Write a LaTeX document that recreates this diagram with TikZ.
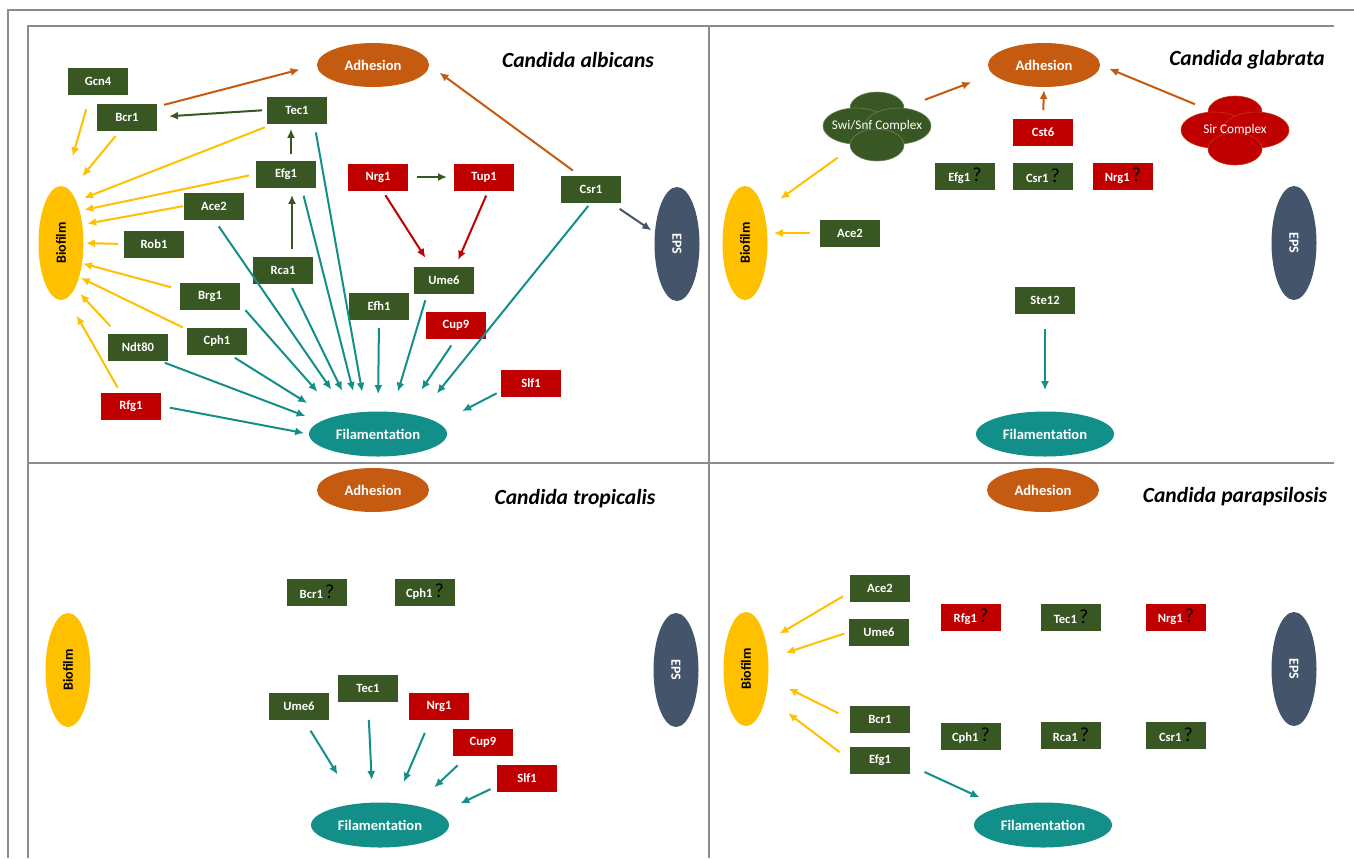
\documentclass[tikz,border=0pt]{standalone}
\usepackage{fontspec}
\setmainfont{Carlito}
\usepackage{tikz}
\usetikzlibrary{arrows.meta, shapes.geometric}
\definecolor{cgreen}{RGB}{56,87,35}
\definecolor{cred}{RGB}{192,0,0}
\definecolor{corange}{RGB}{197,90,17}
\definecolor{cyellow}{RGB}{255,192,0}
\definecolor{cslate}{RGB}{68,84,106}
\definecolor{cteal}{RGB}{19,143,138}
\definecolor{cframe}{RGB}{140,140,140}
\newcommand{\qm}{\,{\color{black}\mdseries\fontsize{10}{10}\selectfont ?}}
\tikzset{
frameLine/.style={draw=cframe, line width=0.7pt},
greenBox/.style={rectangle, fill=cgreen, text=white, minimum width=30pt, minimum height=13.5pt,
    inner sep=0pt, outer sep=0pt, font=\bfseries\fontsize{6.3}{7}\selectfont},
redBox/.style={greenBox, fill=cred},
oval/.style={ellipse, inner sep=0pt, outer sep=0pt, text=white, font=\bfseries\fontsize{7.3}{8}\selectfont},
adhOval/.style={oval, fill=corange, minimum width=56pt, minimum height=22pt},
filOval/.style={oval, fill=cteal, minimum width=69pt, minimum height=22.5pt},
bioOval/.style={oval, fill=cyellow, text=black, minimum width=22.5pt, minimum height=57pt, font=\bfseries\fontsize{7}{8}\selectfont},
epsOval/.style={bioOval, fill=cslate, text=white},
cloudTxt/.style={ellipse, minimum width=54pt, minimum height=37pt, inner sep=0pt, outer sep=0pt,
    text=white, font=\fontsize{6.6}{8}\selectfont},
titleTxt/.style={inner sep=0pt, font=\bfseries\itshape\fontsize{10.8}{12}\selectfont},
arrowMe/.style={-{Latex[length=4.5pt,width=4pt]}, line width=1pt, draw=#1}
}
\begin{document}
\begin{tikzpicture}[x=0.5pt, y=-0.5pt]
\useasboundingbox (0,0) rectangle (1354,858);
\draw[frameLine] (8,858) -- (8,10) -- (1354,10);
\draw[frameLine] (28,858) -- (28,26) -- (1334,26);
\draw[frameLine] (709,26) -- (709,858);
\draw[frameLine] (28,463) -- (1334,463);

\node[adhOval] (alb_Adh) at (373,65) {Adhesion};
\node[titleTxt] (alb_Title) at (578,60) {Candida albicans};
\node[bioOval] (alb_Bio) at (61,243) {\rotatebox{90}{Biofilm}};
\node[epsOval] (alb_EPS) at (677,244) {\rotatebox{-90}{EPS}};
\node[filOval] (alb_Fil) at (378,434) {Filamentation};
\node[greenBox] (alb_Gcn4) at (98,81) {Gcn4};
\node[greenBox] (alb_Bcr1) at (127,117) {Bcr1};
\node[greenBox] (alb_Tec1) at (297,110) {Tec1};
\node[greenBox] (alb_Efg1) at (286,174) {Efg1};
\node[greenBox] (alb_Ace2) at (214,206) {Ace2};
\node[greenBox] (alb_Rob1) at (154,244) {Rob1};
\node[greenBox] (alb_Rca1) at (283,270) {Rca1};
\node[greenBox] (alb_Brg1) at (210,296) {Brg1};
\node[greenBox] (alb_Cph1) at (217,341) {Cph1};
\node[greenBox] (alb_Ndt80) at (138,347) {Ndt80};
\node[greenBox] (alb_Csr1) at (591,189) {Csr1};
\node[greenBox] (alb_Ume6) at (444,280) {Ume6};
\node[greenBox] (alb_Efh1) at (379,306) {Efh1};
\node[redBox] (alb_Rfg1) at (131,406) {Rfg1};
\node[redBox] (alb_Nrg1) at (378,177) {Nrg1};
\node[redBox] (alb_Tup1) at (484,177) {Tup1};
\node[redBox] (alb_Cup9) at (456,325) {Cup9};
\node[redBox] (alb_Slf1) at (531,383) {Slf1};

\draw[arrowMe=cyellow, shorten <=7.7pt, shorten >=15.7pt] (alb_Gcn4.241) -- (alb_Bio.87);
\draw[arrowMe=cyellow, shorten <=3.6pt, shorten >=9.5pt] (alb_Bcr1.243) -- (alb_Bio.80);
\draw[arrowMe=cyellow, shorten <=5.2pt, shorten >=4.2pt] (alb_Tec1.211) -- (alb_Bio.70);
\draw[arrowMe=cyellow, shorten <=3.5pt, shorten >=2.4pt] (alb_Efg1.west) -- (alb_Bio.60);
\draw[arrowMe=cyellow, shorten <=0.5pt, shorten >=2.5pt] (alb_Ace2.west) -- (alb_Bio.41);
\draw[arrowMe=cyellow, shorten <=3pt, shorten >=1.2pt] (alb_Rob1.west) -- (alb_Bio.east);
\draw[arrowMe=cyellow, shorten <=4.6pt, shorten >=0.5pt] (alb_Brg1.168) -- (alb_Bio.316);
\draw[arrowMe=cyellow, shorten <=2.2pt, shorten >=1pt] (alb_Cph1.159) -- (alb_Bio.298);
\draw[arrowMe=cyellow, shorten <=5pt, shorten >=4pt] (alb_Ndt80.147) -- (alb_Bio.287);
\draw[arrowMe=cyellow, shorten <=2.8pt, shorten >=10pt] (alb_Rfg1.128) -- (alb_Bio.276);
\draw[arrowMe=corange, shorten <=3.7pt, shorten >=9pt] (alb_Bcr1.19) -- (alb_Adh.west);
\draw[arrowMe=corange, shorten <=4.2pt, shorten >=6.5pt] (alb_Csr1.130) -- (alb_Adh.east);
\draw[arrowMe=cgreen, shorten <=2.5pt, shorten >=6pt] (alb_Tec1.west) -- (alb_Bcr1.east);
\draw[arrowMe=cgreen, shorten <=3.5pt, shorten >=2.7pt] ([xshift=2.5pt]alb_Efg1.north) -- ([xshift=2.5pt]alb_Efg1.north |- alb_Tec1.south);
\draw[arrowMe=cgreen, shorten <=3.7pt, shorten >=3.7pt] ([xshift=4.5pt]alb_Rca1.north) -- ([xshift=4.5pt]alb_Rca1.north |- alb_Efg1.south);
\draw[arrowMe=cgreen, shorten <=4.5pt, shorten >=3.5pt] (alb_Nrg1.east) -- (alb_Tup1.west);
\draw[arrowMe=cred, shorten <=2.8pt, shorten >=5.2pt] (alb_Nrg1.288) -- (alb_Ume6.134);
\draw[arrowMe=cred, shorten <=2.8pt, shorten >=3.6pt] (alb_Tup1.288) -- (alb_Ume6.50);
\draw[arrowMe=cslate, shorten <=5.7pt, shorten >=2.2pt] (alb_Csr1.325) -- (alb_EPS.153);
\draw[arrowMe=cteal, shorten <=3.2pt, shorten >=7.8pt] (alb_Ndt80.327) -- (alb_Fil.168);
\draw[arrowMe=cteal, shorten <=4.5pt, shorten >=2.5pt] (alb_Rfg1.east) -- (alb_Fil.west);
\draw[arrowMe=cteal, shorten <=3.1pt, shorten >=13.8pt] (alb_Cph1.313) -- (alb_Fil.161);
\draw[arrowMe=cteal, shorten <=4.1pt, shorten >=15.9pt] (alb_Brg1.345) -- (alb_Fil.155);
\draw[arrowMe=cteal, shorten <=4.2pt, shorten >=14.7pt] (alb_Ace2.south) -- (alb_Fil.146);
\draw[arrowMe=cteal, shorten <=2.5pt, shorten >=12.4pt] (alb_Rca1.297) -- (alb_Fil.140);
\draw[arrowMe=cteal, shorten <=4.2pt, shorten >=11pt] (alb_Efg1.319) -- (alb_Fil.132);
\draw[arrowMe=cteal, shorten <=4.5pt, shorten >=10.2pt] (alb_Tec1.322) -- (alb_Fil.119);
\draw[arrowMe=cteal, shorten <=4.2pt, shorten >=8.7pt] (alb_Efh1.south) -- (alb_Fil.north);
\draw[arrowMe=cteal, shorten <=3.5pt, shorten >=10.6pt] (alb_Ume6.219) -- (alb_Fil.58);
\draw[arrowMe=cteal, shorten <=4.2pt, shorten >=14.3pt] (alb_Cup9.south) -- (alb_Fil.37);
\draw[arrowMe=cteal, shorten <=2.2pt, shorten >=14.4pt] (alb_Csr1.south) -- (alb_Fil.24);
\draw[arrowMe=cteal, shorten <=2.5pt, shorten >=13.2pt] (alb_Slf1.195) -- (alb_Fil.10);

\begin{scope}[shift={(877,126)}]
\foreach \dx/\dy/\rx/\ry in {0/-18/27/16, -21/0/33/18, 21/0/33/18, 0/19/27/16}
  \filldraw[fill=cgreen, draw=cgreen!75!white, line width=0.3pt] (\dx,\dy) ellipse [x radius=\rx, y radius=\ry];
\end{scope}
\begin{scope}[shift={(1235,130)}]
\foreach \dx/\dy/\rx/\ry in {0/-18/27/16, -21/0/33/18, 21/0/33/18, 0/19/27/16}
  \filldraw[fill=cred, draw=corange!60!cred, line width=0.3pt] (\dx,\dy) ellipse [x radius=\rx, y radius=\ry];
\end{scope}
\node[adhOval] (gla_Adh) at (1044,65) {Adhesion};
\node[titleTxt] (gla_Title) at (1247,60) {Candida glabrata};
\node[cloudTxt] (gla_Swi) at (877,126) {Swi/Snf Complex};
\node[cloudTxt] (gla_Sir) at (1235,130) {Sir Complex};
\node[redBox] (gla_Cst6) at (1043,132) {Cst6};
\node[greenBox] (gla_Efg1) at (965,176) {Efg1\qm};
\node[greenBox] (gla_Csr1) at (1043,176) {Csr1\qm};
\node[redBox] (gla_Nrg1) at (1123,176) {Nrg1\qm};
\node[bioOval] (gla_Bio) at (745,243) {\rotatebox{90}{Biofilm}};
\node[greenBox] (gla_Ace2) at (850,233) {Ace2};
\node[epsOval] (gla_EPS) at (1294,243) {\rotatebox{-90}{EPS}};
\node[greenBox] (gla_Ste12) at (1045,300) {Ste12};
\node[filOval] (gla_Fil) at (1045,434) {Filamentation};

\draw[arrowMe=corange, shorten <=1pt, shorten >=11.6pt] (gla_Swi.29) -- (gla_Adh.190);
\draw[arrowMe=corange, shorten <=4.2pt, shorten >=1.5pt] (gla_Cst6.north) -- (gla_Adh.south);
\draw[arrowMe=corange, shorten <=0.5pt, shorten >=5pt] (gla_Sir.147) -- (gla_Adh.east);
\draw[arrowMe=cyellow, shorten <=1.3pt, shorten >=10.3pt] (gla_Swi.219) -- (gla_Bio.60);
\draw[arrowMe=cyellow, shorten <=5pt, shorten >=3.2pt] (gla_Ace2.west) -- (gla_Ace2.west -| gla_Bio.east);
\draw[arrowMe=cteal, shorten <=7.7pt, shorten >=10.7pt] (gla_Ste12.south) -- (gla_Fil.north);

\node[adhOval] (tro_Adh) at (373,490) {Adhesion};
\node[titleTxt] (tro_Title) at (575,499) {Candida tropicalis};
\node[greenBox] (tro_Bcr1) at (317,592) {Bcr1\qm};
\node[greenBox] (tro_Cph1) at (425,592) {Cph1\qm};
\node[bioOval] (tro_Bio) at (68,670) {\rotatebox{90}{Biofilm}};
\node[epsOval] (tro_EPS) at (676,670) {\rotatebox{-90}{EPS}};
\node[greenBox] (tro_Tec1) at (368,688) {Tec1};
\node[greenBox] (tro_Ume6) at (299,706) {Ume6};
\node[redBox] (tro_Nrg1) at (439,706) {Nrg1};
\node[redBox] (tro_Cup9) at (483,742) {Cup9};
\node[redBox] (tro_Slf1) at (527,778) {Slf1};
\node[filOval] (tro_Fil) at (380,825) {Filamentation};

\draw[arrowMe=cteal, shorten <=6.6pt, shorten >=17.3pt] (tro_Ume6.289) -- (tro_Fil.139);
\draw[arrowMe=cteal, shorten <=9.2pt, shorten >=11.3pt] (tro_Tec1.south) -- (tro_Fil.108);
\draw[arrowMe=cteal, shorten <=7.3pt, shorten >=11.5pt] (tro_Nrg1.238) -- (tro_Fil.56);
\draw[arrowMe=cteal, shorten <=7.1pt, shorten >=13.3pt] (tro_Cup9.222) -- (tro_Fil.29);
\draw[arrowMe=cteal, shorten <=3.6pt, shorten >=11.7pt] (tro_Slf1.195) -- (tro_Fil.11);

\node[adhOval] (par_Adh) at (1043,490) {Adhesion};
\node[titleTxt] (par_Title) at (1235,497) {Candida parapsilosis};
\node[greenBox] (par_Ace2) at (880,588) {Ace2};
\node[greenBox] (par_Ume6) at (879,632) {Ume6};
\node[redBox] (par_Rfg1) at (971,617) {Rfg1\qm};
\node[greenBox] (par_Tec1) at (1071,617) {Tec1\qm};
\node[redBox] (par_Nrg1) at (1176,617) {Nrg1\qm};
\node[bioOval] (par_Bio) at (746,669) {\rotatebox{90}{Biofilm}};
\node[epsOval] (par_EPS) at (1294,669) {\rotatebox{-90}{EPS}};
\node[greenBox] (par_Bcr1) at (880,719) {Bcr1};
\node[greenBox] (par_Efg1) at (880,760) {Efg1};
\node[greenBox] (par_Cph1) at (971,736) {Cph1\qm};
\node[greenBox] (par_Rca1) at (1071,735) {Rca1\qm};
\node[greenBox] (par_Csr1) at (1176,735) {Csr1\qm};
\node[filOval] (par_Fil) at (1043,825) {Filamentation};

\draw[arrowMe=cyellow, shorten <=4pt, shorten >=7.9pt] (par_Ace2.188) -- (par_Bio.54);
\draw[arrowMe=cyellow, shorten <=2.5pt, shorten >=9.3pt] (par_Ume6.west) -- (par_Bio.25);
\draw[arrowMe=cyellow, shorten <=6.5pt, shorten >=11.3pt] (par_Bcr1.west) -- (par_Bio.337);
\draw[arrowMe=cyellow, shorten <=6.5pt, shorten >=14pt] (par_Efg1.west) -- (par_Bio.306);
\draw[arrowMe=cteal, shorten <=8pt, shorten >=11.8pt] (par_Efg1.350) -- (par_Fil.157);
\end{tikzpicture}
\end{document}
